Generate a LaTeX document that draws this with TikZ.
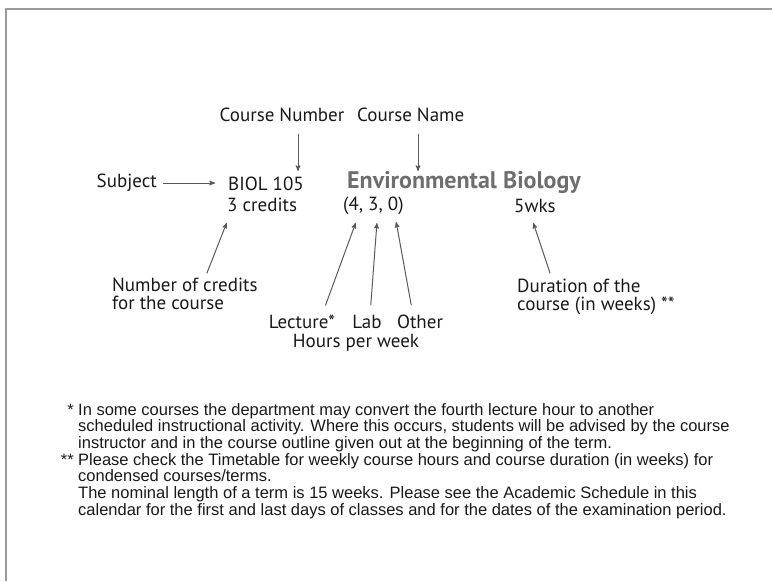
\documentclass[tikz,border=0pt]{standalone}
\usepackage{fontspec}
\setmainfont{PT Sans}
\newfontfamily\notefont{Liberation Sans}
\usetikzlibrary{arrows,positioning}
\definecolor{linegray}{HTML}{5A5A5A}
\definecolor{framegray}{HTML}{9A9A9A}
\definecolor{titlegray}{HTML}{6E6E6E}
\tikzset{>=stealth',shorten >=1pt}
\tikzset{lbl/.style={inner sep=0pt,text=black!90,font=\fontsize{19}{17.5}\selectfont}}
\tikzset{ttl/.style={inner sep=0pt,text=titlegray,font=\fontsize{24}{24}\selectfont\bfseries}}
\tikzset{note/.style={inner sep=0pt,text=black!90,font=\notefont\fontsize{16.5}{16.7}\selectfont}}
\tikzset{pointer/.style={->,draw=linegray,line width=1pt}}

\begin{document}
\begin{tikzpicture}[x=1pt,y=-1pt]
        \useasboundingbox (0,0) rectangle (773,581);
        \draw[framegray,line width=1.2pt] (6,581) -- (6,9) -- (773,9);

        % course entry
        \node[lbl,anchor=east] (subj) at (157,183) {Subject};
        \node[lbl,anchor=west] (biol) at (228,184) {BIOL 105};
        \node[lbl,anchor=west] (cred) at (227,205) {3 credits};
        \node[ttl,anchor=west] (envbio) at (347,183) {Environmental Biology};
        \node[lbl,anchor=west] (hrs) at (343,206) {(4, 3, 0)};
        \node[lbl,anchor=west] (wks) at (514,206) {5wks};

        % labels
        \node[lbl] (cnum) at (282,115) {Course Number};
        \node[lbl,anchor=west] (cname) at (357,115) {Course Name};
        \node[lbl,align=left,anchor=north west] (ncred) at (112,278) {Number of credits\\for the course};
        \node[lbl,align=left,anchor=north west] (dur) at (517,279) {Duration of the\\course (in weeks) **};
        \node[lbl] (lect) at (302,322) {Lecture*};
        \node[lbl] (lab) at (367,322) {Lab};
        \node[lbl] (oth) at (420,322) {Other};
        \node[lbl] (hpw) at (356,343) {Hours per week};

        % arrow tips
        \coordinate (t-num) at (298,172);
        \coordinate (t-name) at (418,172);
        \coordinate (t-cred) at (227,222);
        \coordinate (t-lect) at (356,222);
        \coordinate (t-lab) at (377,222);
        \coordinate (t-oth) at (396,221);
        \coordinate (t-wks) at (533,222);

        \draw[pointer,shorten <=12pt] (cnum.south -| t-num) -- (t-num);
        \draw[pointer,shorten <=12pt] (cname.south -| t-name) -- (t-name);
        \draw[pointer,shorten <=6pt,shorten >=13pt] (subj.east) -- (subj.east -| biol.west);
        \draw[pointer,shorten <=5pt] ([xshift=93pt]ncred.north west) -- (t-cred);
        \draw[pointer,shorten <=10pt] ([xshift=20pt]lect.north) -- (t-lect);
        \draw[pointer,shorten <=10pt] ([xshift=3pt]lab.north) -- (t-lab);
        \draw[pointer,shorten <=10pt] ([xshift=-7pt]oth.north) -- (t-oth);
        \draw[pointer,shorten <=6pt] ([xshift=35pt]dur.north west) -- (t-wks);

        % footnotes
        \node[note,anchor=north east] (st1) at (74,404) {*};
        \node[note,align=left,anchor=north west] (n1) at (78,403) {In some courses the department may convert the fourth lecture hour to another\\scheduled instructional activity. Where this occurs, students will be advised by the course\\instructor and in the course outline given out at the beginning of the term.};
        \node[note,anchor=north east] (st2) at (74,454) {**};
        \node[note,align=left,anchor=north west] (n2) at (78,453) {Please check the Timetable for weekly course hours and course duration (in weeks) for\\condensed courses/terms.\\The nominal length of a term is 15 weeks. Please see the Academic Schedule in this\\calendar for the first and last days of classes and for the dates of the examination period.};
\end{tikzpicture}
\end{document}
